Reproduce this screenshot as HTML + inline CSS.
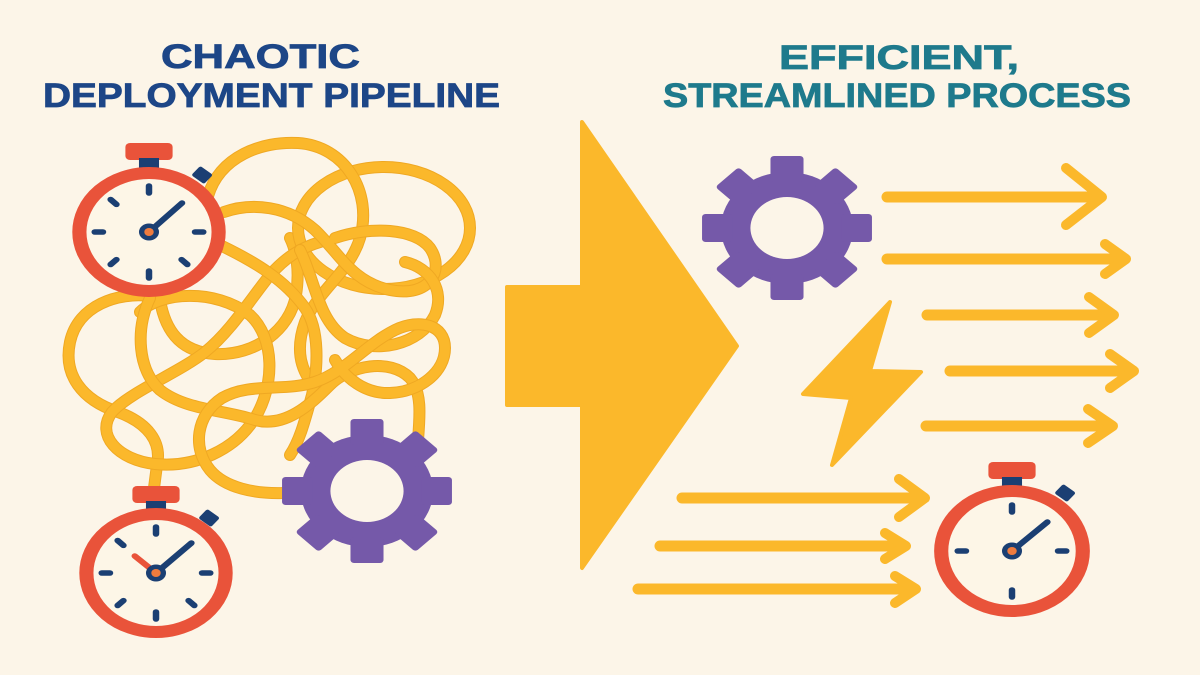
<!DOCTYPE html>
<html><head><meta charset="utf-8"><style>
html,body{margin:0;padding:0;background:#fcf5e8;}
svg{display:block;}
</style></head><body>
<svg width="1200" height="675" viewBox="0 0 1200 675" xmlns="http://www.w3.org/2000/svg">
<defs>
<g id="tick4">
 <line x1="0" y1="-39" x2="0" y2="-46"/>
 <line x1="0" y1="39" x2="0" y2="46"/>
 <line x1="-39" y1="0" x2="-46" y2="0"/>
 <line x1="39" y1="0" x2="46" y2="0"/>
</g>
<g id="gear">
 <circle r="56" fill="#7559a9"/>
 <g fill="#7559a9">
  <rect x="-14" y="-72" width="28" height="26" rx="3"/>
  <rect x="-14" y="-72" width="28" height="26" rx="3" transform="rotate(45)"/>
  <rect x="-14" y="-72" width="28" height="26" rx="3" transform="rotate(90)"/>
  <rect x="-14" y="-72" width="28" height="26" rx="3" transform="rotate(135)"/>
  <rect x="-14" y="-72" width="28" height="26" rx="3" transform="rotate(180)"/>
  <rect x="-14" y="-72" width="28" height="26" rx="3" transform="rotate(225)"/>
  <rect x="-14" y="-72" width="28" height="26" rx="3" transform="rotate(270)"/>
  <rect x="-14" y="-72" width="28" height="26" rx="3" transform="rotate(315)"/>
 </g>
 <circle r="31" fill="#fcf5e8"/>
</g>
</defs>

<rect width="1200" height="675" fill="#fcf5e8"/>

<!-- Titles -->
<g font-family="Liberation Sans, Arial, sans-serif" font-weight="bold" font-size="34">
 <text x="161" y="68" textLength="199" lengthAdjust="spacingAndGlyphs" fill="#1d4687" stroke="#1d4687" stroke-width="0.8">CHAOTIC</text>
 <text x="43" y="107" textLength="457" lengthAdjust="spacingAndGlyphs" fill="#1d4687" stroke="#1d4687" stroke-width="0.8">DEPLOYMENT PIPELINE</text>
 <text x="779" y="69" textLength="240" lengthAdjust="spacingAndGlyphs" fill="#1e7a8c" stroke="#1e7a8c" stroke-width="0.8">EFFICIENT,</text>
 <text x="663" y="107" textLength="468" lengthAdjust="spacingAndGlyphs" fill="#1e7a8c" stroke="#1e7a8c" stroke-width="0.8">STREAMLINED PROCESS</text>
</g>

<!-- Tangle -->
<g fill="none" stroke-linecap="round">
 <path d="M 160 300 C 165 330, 180 352, 215 354 C 255 356, 290 330, 296 295 C 300 270, 296 250, 290 238" stroke="#efa823" stroke-width="12"/>
 <path d="M 160 300 C 165 330, 180 352, 215 354 C 255 356, 290 330, 296 295 C 300 270, 296 250, 290 238" stroke="#fbb82b" stroke-width="10"/>

 <ellipse cx="384" cy="228" rx="86" ry="61" stroke="#efa823" stroke-width="12"/>
 <ellipse cx="384" cy="228" rx="86" ry="61" stroke="#fbb82b" stroke-width="10"/>

 <path d="M 208 196 C 220 156, 262 141, 298 143 C 345 146, 373 192, 360 238 C 350 272, 318 290, 305 322 C 295 350, 300 372, 318 390" stroke="#efa823" stroke-width="12"/>
 <path d="M 208 196 C 220 156, 262 141, 298 143 C 345 146, 373 192, 360 238 C 350 272, 318 290, 305 322 C 295 350, 300 372, 318 390" stroke="#fbb82b" stroke-width="10"/>

 <path d="M 150 296 C 118 292, 78 305, 70 342 C 63 375, 82 400, 118 412 C 148 423, 162 442, 157 465 L 154 488" stroke="#efa823" stroke-width="12"/>
 <path d="M 150 296 C 118 292, 78 305, 70 342 C 63 375, 82 400, 118 412 C 148 423, 162 442, 157 465 L 154 488" stroke="#fbb82b" stroke-width="10"/>

 <path d="M 140 312 C 160 292, 215 288, 250 315 C 275 338, 275 385, 255 418 C 235 450, 195 468, 155 464 C 118 460, 95 435, 112 412 C 130 392, 180 372, 205 352 C 230 332, 250 300, 270 275 C 285 258, 300 248, 320 242" stroke="#efa823" stroke-width="12"/>
 <path d="M 140 312 C 160 292, 215 288, 250 315 C 275 338, 275 385, 255 418 C 235 450, 195 468, 155 464 C 118 460, 95 435, 112 412 C 130 392, 180 372, 205 352 C 230 332, 250 300, 270 275 C 285 258, 300 248, 320 242" stroke="#fbb82b" stroke-width="10"/>

 <path d="M 224 212 C 252 202, 288 206, 315 230 C 340 254, 352 282, 390 290 C 430 298, 445 270, 430 248 C 415 228, 370 226, 335 238" stroke="#efa823" stroke-width="12"/>
 <path d="M 224 212 C 252 202, 288 206, 315 230 C 340 254, 352 282, 390 290 C 430 298, 445 270, 430 248 C 415 228, 370 226, 335 238" stroke="#fbb82b" stroke-width="10"/>

 <path d="M 222 246 C 255 262, 285 280, 305 308 C 320 330, 318 368, 312 395 C 305 420, 300 440, 290 455" stroke="#efa823" stroke-width="12"/>
 <path d="M 222 246 C 255 262, 285 280, 305 308 C 320 330, 318 368, 312 395 C 305 420, 300 440, 290 455" stroke="#fbb82b" stroke-width="10"/>

 <path d="M 150 298 C 135 330, 138 370, 160 390 C 185 410, 225 410, 255 420 C 285 428, 310 405, 330 385 C 350 365, 390 358, 410 378 C 422 392, 420 415, 418 440" stroke="#efa823" stroke-width="12"/>
 <path d="M 150 298 C 135 330, 138 370, 160 390 C 185 410, 225 410, 255 420 C 285 428, 310 405, 330 385 C 350 365, 390 358, 410 378 C 422 392, 420 415, 418 440" stroke="#fbb82b" stroke-width="10"/>

 <path d="M 300 250 C 315 280, 318 320, 345 338 C 375 355, 420 345, 435 315 C 445 290, 430 268, 405 262" stroke="#efa823" stroke-width="12"/>
 <path d="M 300 250 C 315 280, 318 320, 345 338 C 375 355, 420 345, 435 315 C 445 290, 430 268, 405 262" stroke="#fbb82b" stroke-width="10"/>

 <path d="M 284 493 C 255 494, 225 488, 210 470 C 192 448, 196 415, 222 398 C 250 382, 285 392, 315 382 C 345 372, 365 345, 395 330 C 420 318, 445 325, 445 348 C 445 372, 420 392, 390 393 C 365 394, 345 378, 335 360" stroke="#efa823" stroke-width="12"/>
 <path d="M 284 493 C 255 494, 225 488, 210 470 C 192 448, 196 415, 222 398 C 250 382, 285 392, 315 382 C 345 372, 365 345, 395 330 C 420 318, 445 325, 445 348 C 445 372, 420 392, 390 393 C 365 394, 345 378, 335 360" stroke="#fbb82b" stroke-width="10"/>
</g>

<!-- Top-left stopwatch -->
<g transform="translate(149,232) scale(1.18,1)">
 <rect x="-20" y="-89" width="40" height="17" rx="4" fill="#e9533a"/>
 <rect x="-8.5" y="-74" width="17" height="10" fill="#1b3f73"/>
 <rect x="38" y="-63" width="14" height="12" rx="2" fill="#1b3f73" transform="rotate(40 45 -57)"/>
 <circle r="59" fill="#fdf6e7" stroke="#e9533a" stroke-width="12"/>
 <g stroke="#1b3f73" stroke-width="5.5" stroke-linecap="round">
  <use href="#tick4"/>
  <line x1="-27.6" y1="-27.6" x2="-32.5" y2="-32.5"/>
  <line x1="-27.6" y1="27.6" x2="-32.5" y2="32.5"/>
  <line x1="27.6" y1="27.6" x2="32.5" y2="32.5"/>
  <line x1="0" y1="0" x2="28" y2="-29"/>
 </g>
 <circle r="8.5" fill="#1b3f73"/>
 <circle r="4" fill="#ef7b3e"/>
</g>

<!-- Bottom-left stopwatch -->
<g transform="translate(156,573) scale(1.18,1)">
 <rect x="-20" y="-87" width="40" height="17" rx="4" fill="#e9533a"/>
 <rect x="-8.5" y="-72" width="17" height="10" fill="#1b3f73"/>
 <rect x="38" y="-61" width="14" height="12" rx="2" fill="#1b3f73" transform="rotate(40 45 -55)"/>
 <circle r="59" fill="#fdf6e7" stroke="#e9533a" stroke-width="12"/>
 <g stroke="#1b3f73" stroke-width="5.5" stroke-linecap="round">
  <use href="#tick4"/>
  <line x1="-27.6" y1="-27.6" x2="-32.5" y2="-32.5"/>
  <line x1="-27.6" y1="27.6" x2="-32.5" y2="32.5"/>
  <line x1="27.6" y1="27.6" x2="32.5" y2="32.5"/>
  <line x1="0" y1="0" x2="30" y2="-30"/>
 </g>
 <line x1="0" y1="0" x2="-18" y2="-17" stroke="#e9533a" stroke-width="5.5" stroke-linecap="round"/>
 <circle r="8.5" fill="#1b3f73"/>
 <circle r="4" fill="#ef7b3e"/>
</g>

<!-- Left gear -->
<g transform="translate(367,491) scale(1.18,1)"><use href="#gear"/></g>

<!-- Big transition arrow -->
<polygon points="507,287 582,287 582,122 737,346 582,568 582,405 507,405" fill="#fbb82b" stroke="#fbb82b" stroke-width="4" stroke-linejoin="round"/>

<!-- Right gear -->
<g transform="translate(787,228) scale(1.18,1)"><use href="#gear"/></g>

<!-- Lightning -->
<polygon points="890,302 803,394 851,398 832,465 921,372 870,371" fill="#fbb82b" stroke="#fbb82b" stroke-width="4" stroke-linejoin="round"/>

<!-- Speed arrows -->
<g fill="none" stroke="#fbb82b" stroke-linecap="round" stroke-linejoin="round">
 <g stroke-width="11">
  <line x1="887" y1="197" x2="1100" y2="197"/>
  <line x1="887" y1="259" x2="1124" y2="259"/>
  <line x1="927" y1="315" x2="1112" y2="315"/>
  <line x1="950" y1="371" x2="1132" y2="371"/>
  <line x1="926" y1="426" x2="1111" y2="426"/>
  <line x1="682" y1="498" x2="923" y2="498"/>
  <line x1="660" y1="546" x2="904" y2="546"/>
  <line x1="638" y1="589" x2="914" y2="589"/>
 </g>
 <g stroke-width="10">
  <polyline points="1066,168 1102,197 1066,225"/>
  <polyline points="1105,244 1126,259 1105,274"/>
  <polyline points="1089,297 1114,315 1089,333"/>
  <polyline points="1110,354 1134,371 1110,388"/>
  <polyline points="1088,409 1113,426 1088,443"/>
  <polyline points="899,479 925,498 899,517"/>
  <polyline points="885,533 906,546 885,559"/>
  <polyline points="895,576 916,589 895,603"/>
 </g>
</g>

<!-- Right stopwatch -->
<g transform="translate(1012,551) scale(1.18,1)">
 <rect x="-20" y="-89" width="40" height="17" rx="4" fill="#e9533a"/>
 <rect x="-8.5" y="-74" width="17" height="10" fill="#1b3f73"/>
 <rect x="38" y="-64" width="14" height="12" rx="2" fill="#1b3f73" transform="rotate(40 45 -58)"/>
 <circle r="60" fill="#fdf6e7" stroke="#e9533a" stroke-width="12"/>
 <g stroke="#1b3f73" stroke-width="5.5" stroke-linecap="round">
  <use href="#tick4"/>
  <line x1="0" y1="0" x2="30" y2="-29"/>
 </g>
 <circle r="8.5" fill="#1b3f73"/>
 <circle r="4" fill="#ef7b3e"/>
</g>
</svg>
</body></html>
